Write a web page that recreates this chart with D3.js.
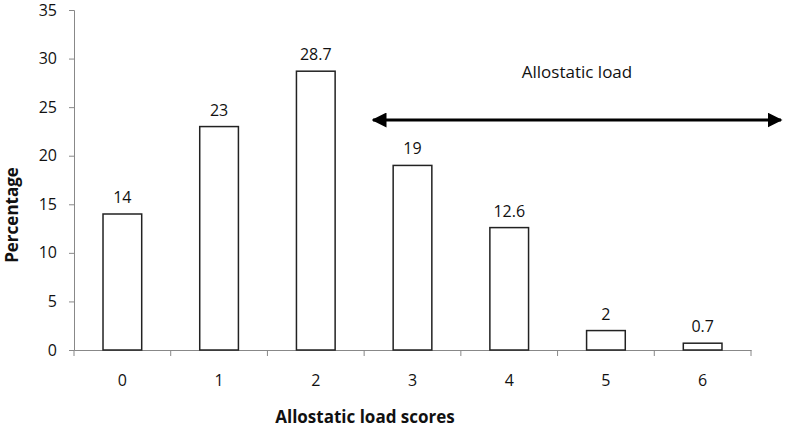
<!DOCTYPE html>
<html><head><meta charset="utf-8">
<script src="https://cdn.jsdelivr.net/npm/d3@7"></script>
<style>body{margin:0;background:#fff}text{font-family:"Open Sans",sans-serif;fill:#111}</style>
</head><body><svg id="c" width="788" height="430"></svg>
<script>
const categories=["0","1","2","3","4","5","6"];
const values=[14,23,28.7,19,12.6,2,0.7];
const labels=["14","23","28.7","19","12.6","2","0.7"];
const yTicks=[0,5,10,15,20,25,30,35];
const svg=d3.select("#c");
const L=74,R=751;
const x=d3.scaleBand().domain(categories).range([L,R]).paddingInner(0.6).paddingOuter(0.3);
const y=d3.scaleLinear().domain([0,35]).range([350,10]);
svg.append("g").attr("transform",`translate(${L},0)`).call(d3.axisLeft(y).tickValues(yTicks).tickSize(5).tickPadding(12));
const xs=d3.scaleBand().domain(categories).range([L,R]);
const xa=svg.append("g").attr("transform","translate(0,350)").call(d3.axisBottom(xs).tickSize(0).tickPadding(25));
[...categories.map(c=>xs(c)),R].forEach(p=>xa.append("line").attr("x1",p).attr("x2",p).attr("y1",0).attr("y2",6).attr("stroke","#888"));
svg.selectAll(".domain").attr("stroke","#888");
svg.selectAll(".tick line").attr("stroke","#888");
svg.selectAll(".tick text").attr("font-size",16).attr("font-family","Open Sans").attr("fill","#111");
svg.selectAll("rect.bar").data(values).join("rect").attr("class","bar")
 .attr("x",(d,i)=>x(categories[i])).attr("width",x.bandwidth())
 .attr("y",d=>y(d)).attr("height",d=>y(0)-y(d))
 .attr("fill","#fff").attr("stroke","#222").attr("stroke-width",1.5);
svg.selectAll("text.lab").data(values).join("text").attr("class","lab")
 .attr("x",(d,i)=>x(categories[i])+x.bandwidth()/2).attr("y",d=>y(d)-11)
 .attr("text-anchor","middle").attr("font-size",16).text((d,i)=>labels[i]);
svg.append("text").attr("x",365).attr("y",423).attr("text-anchor","middle").attr("font-size",17).attr("font-weight","bold").text("Allostatic load scores");
svg.append("text").attr("transform","translate(18,215) rotate(-90)").attr("text-anchor","middle").attr("font-size",17).attr("font-weight","bold").text("Percentage");
const defs=svg.append("defs");
defs.append("marker").attr("id","ah").attr("viewBox","0 0 10 10").attr("refX",9).attr("refY",5).attr("markerWidth",5).attr("markerHeight",5).attr("orient","auto-start-reverse")
 .append("path").attr("d","M0,0L10,5L0,10z").attr("fill","#000");
svg.append("line").attr("x1",373).attr("x2",781).attr("y1",120).attr("y2",120).attr("stroke","#000").attr("stroke-width",3)
 .attr("marker-start","url(#ah)").attr("marker-end","url(#ah)");
svg.append("text").attr("x",577).attr("y",78).attr("text-anchor","middle").attr("font-size",17).text("Allostatic load");
</script></body></html>
